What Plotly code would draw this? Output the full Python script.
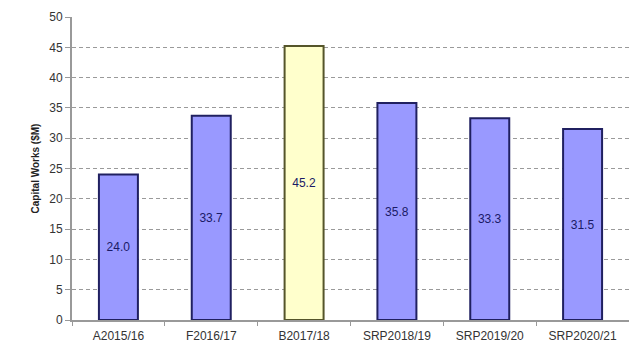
import plotly.graph_objects as go

categories = ["A2015/16", "F2016/17", "B2017/18", "SRP2018/19", "SRP2019/20", "SRP2020/21"]
values = [24.0, 33.7, 45.2, 35.8, 33.3, 31.5]
fill_colors = ["#9999FF", "#9999FF", "#FFFFCC", "#9999FF", "#9999FF", "#9999FF"]
line_colors = ["#202060", "#202060", "#55552A", "#202060", "#202060", "#202060"]
y_ticks = [0, 5, 10, 15, 20, 25, 30, 35, 40, 45, 50]

fig = go.Figure(
    go.Bar(
        x=categories,
        y=values,
        text=[f"{v:.1f}" for v in values],
        textposition="inside",
        insidetextanchor="middle",
        textangle=0,
        textfont=dict(family="Liberation Sans, Arial", size=12, color="#1a1a66"),
        marker=dict(color=fill_colors, line=dict(color=line_colors, width=2)),
        width=0.42,
    )
)

fig.update_layout(
    width=629,
    height=351,
    margin=dict(l=72, r=0, t=17, b=31),
    paper_bgcolor="white",
    plot_bgcolor="white",
    showlegend=False,
    font=dict(family="Liberation Sans, Arial", size=12, color="#333333"),
)

fig.update_yaxes(
    range=[0, 50],
    tickvals=y_ticks,
    showgrid=True,
    gridcolor="#9a9a9a",
    griddash="4px,3px",
    gridwidth=1,
    showline=True,
    linecolor="#999999",
    linewidth=2,
    ticks="outside",
    ticklen=5,
    tickcolor="#999999",
    tickfont=dict(size=12, color="#333333"),
    zeroline=False,
    title=dict(text="<b>Capital Works ($M)</b>", font=dict(size=10, color="#222222"), standoff=8),
)

fig.update_xaxes(
    showline=True,
    linecolor="#999999",
    linewidth=2,
    ticks="outside",
    tickson="boundaries",
    ticklen=4,
    tickcolor="#999999",
    tickfont=dict(size=12, color="#333333"),
    ticklabelstandoff=4,
    showgrid=False,
)

fig.write_html("out.html")
